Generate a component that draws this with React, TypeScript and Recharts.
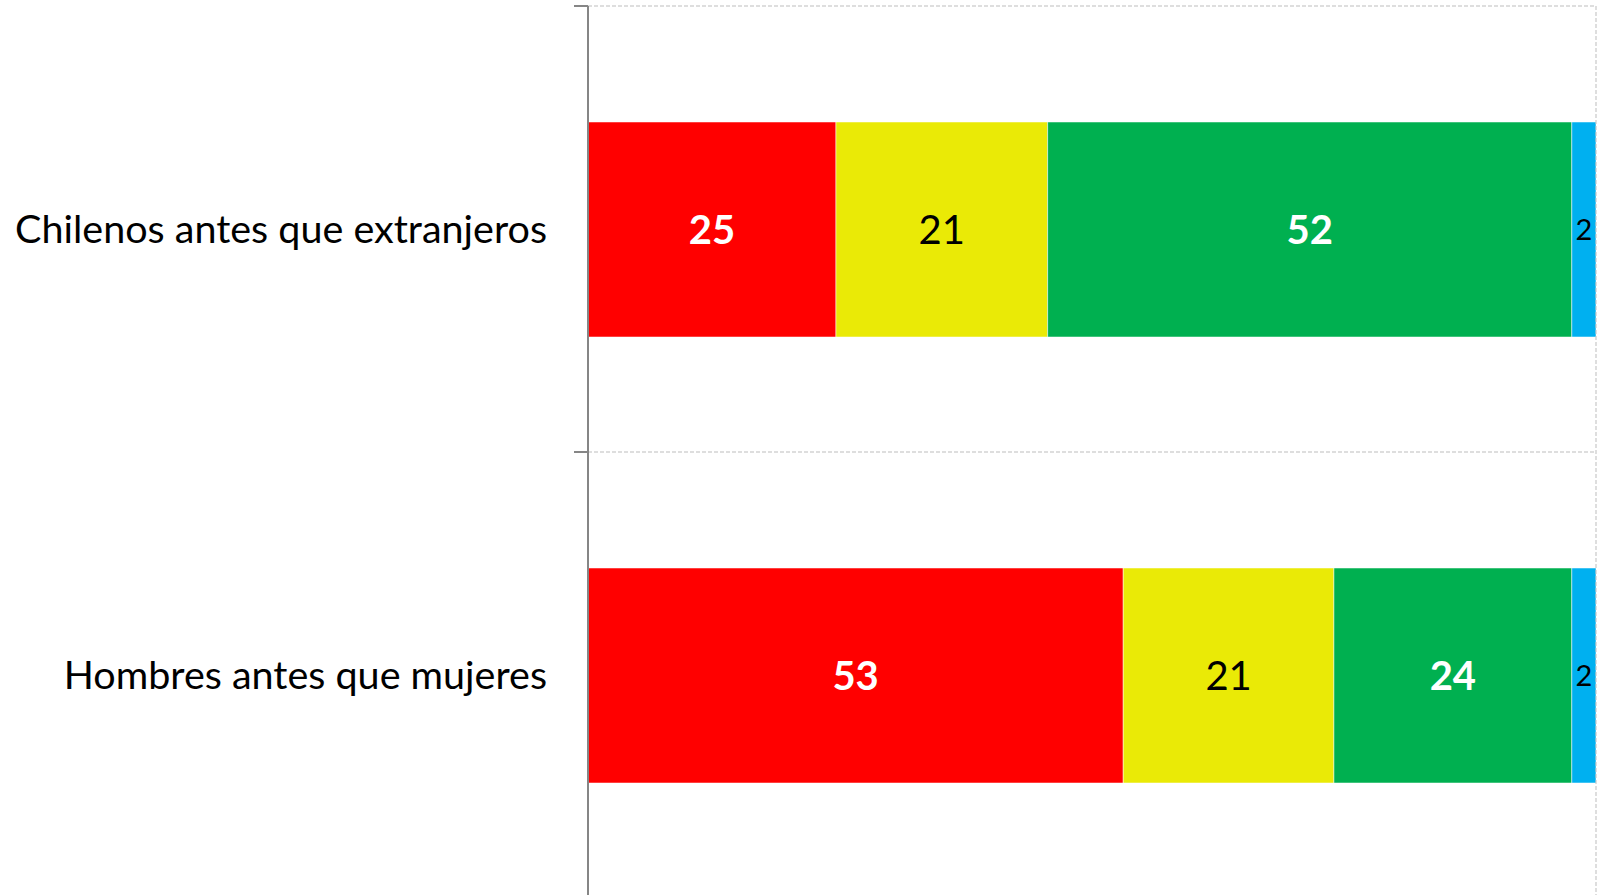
import React from 'react';
import { BarChart, Bar, XAxis, YAxis, CartesianGrid, ReferenceLine, LabelList } from 'recharts';

const categories = ['Chilenos antes que extranjeros', 'Hombres antes que mujeres'];
const rojo = [24.6, 53.1];
const amarillo = [21.0, 20.9];
const verde = [52.0, 23.6];
const azul = [2.4, 2.4];

const chartData = categories.map((name, i) => ({
  name,
  rojo: rojo[i],
  amarillo: amarillo[i],
  verde: verde[i],
  azul: azul[i]
}));

const FONT = 'Lato, "Open Sans", sans-serif';
const W = 1598;
const H = 900;
const MARGIN = { top: 6, right: 2, bottom: 2, left: 8 };
const AXIS_W = 580;
const LABEL_GAP = 41;
const TICK_LEN = 14;
const BAND = (H - MARGIN.top - MARGIN.bottom) / categories.length;
const AXIS_COLOR = '#868686';
const GRID_COLOR = '#bdbdbd';

const fmt = (v: any) => Math.round(Number(v));

// category label plus the Excel-style tick marks on the band boundaries
function CategoryTick(props: any) {
  const { x, y, payload, index } = props;
  const axisX = x + LABEL_GAP;
  return (
    <g>
      <line x1={axisX - TICK_LEN} x2={axisX} y1={y - BAND / 2} y2={y - BAND / 2} stroke={AXIS_COLOR} strokeWidth={2} />
      {index === categories.length - 1 && (
        <line x1={axisX - TICK_LEN} x2={axisX} y1={y + BAND / 2} y2={y + BAND / 2} stroke={AXIS_COLOR} strokeWidth={2} />
      )}
      <text x={x} y={y} dy="0.355em" textAnchor="end" fill="#000" fontSize={39.5} fontFamily={FONT}>
        {payload.value}
      </text>
    </g>
  );
}

const gridRows = ({ offset }: any) =>
  categories.map((_, i) => offset.top + (offset.height / categories.length) * i);

export default function App() {
  return (
    <div
      style={{
        position: 'absolute',
        top: 0,
        left: 0,
        width: W,
        height: 895,
        overflow: 'hidden',
        background: '#fff',
        fontFamily: FONT
      }}
    >
      <BarChart width={W} height={H} data={chartData} layout="vertical" margin={MARGIN}>
        <CartesianGrid
          vertical={false}
          horizontalCoordinatesGenerator={gridRows}
          stroke={GRID_COLOR}
          strokeDasharray="4 2"
        />
        <XAxis type="number" domain={[0, 100]} hide />
        <YAxis
          type="category"
          dataKey="name"
          width={AXIS_W}
          axisLine={{ stroke: AXIS_COLOR, strokeWidth: 2 }}
          tickLine={false}
          tickSize={0}
          tickMargin={LABEL_GAP}
          tick={<CategoryTick />}
        />
        <ReferenceLine x={100} stroke={GRID_COLOR} strokeDasharray="4 2" />
        <Bar dataKey="rojo" stackId="a" fill="#ff0000" barSize={215} stroke="#ffffff" strokeOpacity={0.5} isAnimationActive={false}>
          <LabelList dataKey="rojo" position="center" formatter={fmt} fill="#ffffff" fontSize={40} fontWeight="bold" fontFamily={FONT} />
        </Bar>
        <Bar dataKey="amarillo" stackId="a" fill="#eaea06" barSize={215} stroke="#ffffff" strokeOpacity={0.5} isAnimationActive={false}>
          <LabelList dataKey="amarillo" position="center" formatter={fmt} fill="#000000" fontSize={40} fontFamily={FONT} />
        </Bar>
        <Bar dataKey="verde" stackId="a" fill="#00b050" barSize={215} stroke="#ffffff" strokeOpacity={0.5} isAnimationActive={false}>
          <LabelList dataKey="verde" position="center" formatter={fmt} fill="#ffffff" fontSize={40} fontWeight="bold" fontFamily={FONT} />
        </Bar>
        <Bar dataKey="azul" stackId="a" fill="#00b0f0" barSize={215} stroke="#ffffff" strokeOpacity={0.5} isAnimationActive={false}>
          <LabelList dataKey="azul" position="center" formatter={fmt} fill="#000000" fontSize={29} fontFamily={FONT} />
        </Bar>
      </BarChart>
    </div>
  );
}
